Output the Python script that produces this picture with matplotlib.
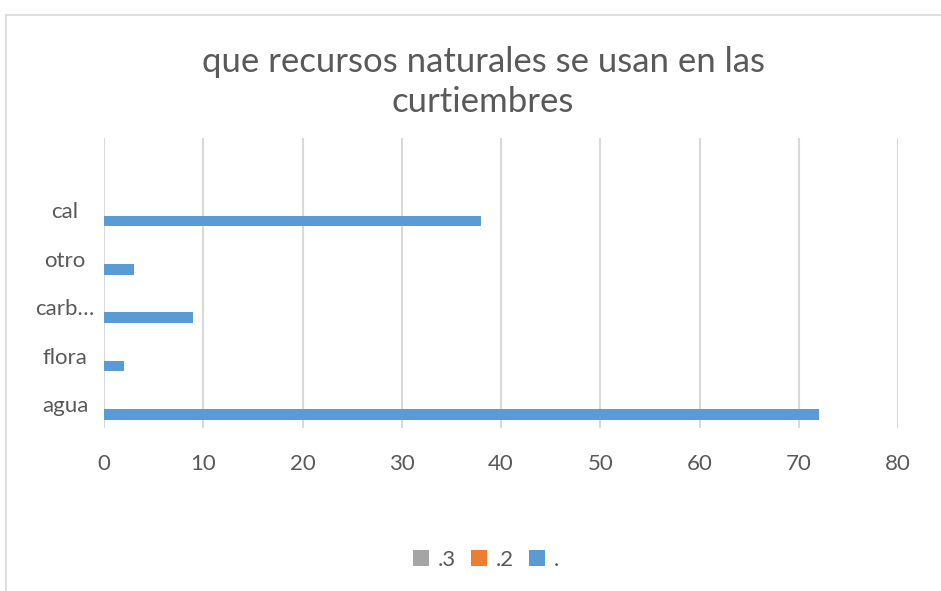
import matplotlib
matplotlib.use("Agg")
import matplotlib.pyplot as plt
from matplotlib.patches import Rectangle
import numpy as np

categories = ["agua", "flora", "carb…", "otro", "cal", ""]
series_names = [".", ".2", ".3"]
values_dot = [72, 2, 9, 3, 38, 0]
values_2 = [0, 0, 0, 0, 0, 0]
values_3 = [0, 0, 0, 0, 0, 0]
x_ticks = [0, 10, 20, 30, 40, 50, 60, 70, 80]
title = "que recursos naturales se usan en las\ncurtiembres"

colors = ["#5B9BD5", "#ED7D31", "#A5A5A5"]
text_color = "#595959"
grid_color = "#D9D9D9"

plt.rcParams['font.family'] = ['Lato', 'DejaVu Sans']

fig = plt.figure(figsize=(9.41, 5.91), dpi=100)
fig.patches.append(Rectangle((6/941, -0.1), 2, 1 - 15/591 + 0.1, transform=fig.transFigure,
                             fill=False, edgecolor=grid_color, linewidth=1.2))

ax = fig.add_axes([104/941, 1 - 428/591, (898-104)/941, (428-138)/591])

bh = 0.217
y = np.arange(len(categories))
all_vals = [values_dot, values_2, values_3]
for j, (vals, name, c) in enumerate(zip(all_vals, series_names, colors)):
    ax.barh(y - bh + j*bh, vals, height=bh, color=c, linewidth=0, label=name, zorder=3)

ax.set_xlim(0, 80)
ax.set_ylim(-0.5, len(categories) - 0.5)
ax.set_xticks(x_ticks)
ax.set_xticklabels([str(t) for t in x_ticks], fontsize=16, color=text_color)
ax.set_yticks(y)
ax.set_yticklabels(categories, fontsize=16, color=text_color, ha='center')
ax.tick_params(axis='y', length=0, pad=28)
ax.tick_params(axis='x', length=0, pad=19)
for s in ax.spines.values():
    s.set_visible(False)
ax.grid(axis='x', color=grid_color, linewidth=1.5, zorder=0)
ax.set_axisbelow(True)

fig.text(483/941, 1 - 82/591, title, ha='center', va='center', fontsize=25,
         color=text_color, linespacing=1.32)

handles, labels = ax.get_legend_handles_labels()
leg = fig.legend(handles[::-1], labels[::-1], loc='center', bbox_to_anchor=(486/941, 1 - 560/591),
                 ncol=3, frameon=False, fontsize=16, handlelength=0.7, handleheight=0.7,
                 handletextpad=0.4, columnspacing=0.7, labelcolor=text_color)

fig.savefig("out.png", dpi=100, facecolor="white")
